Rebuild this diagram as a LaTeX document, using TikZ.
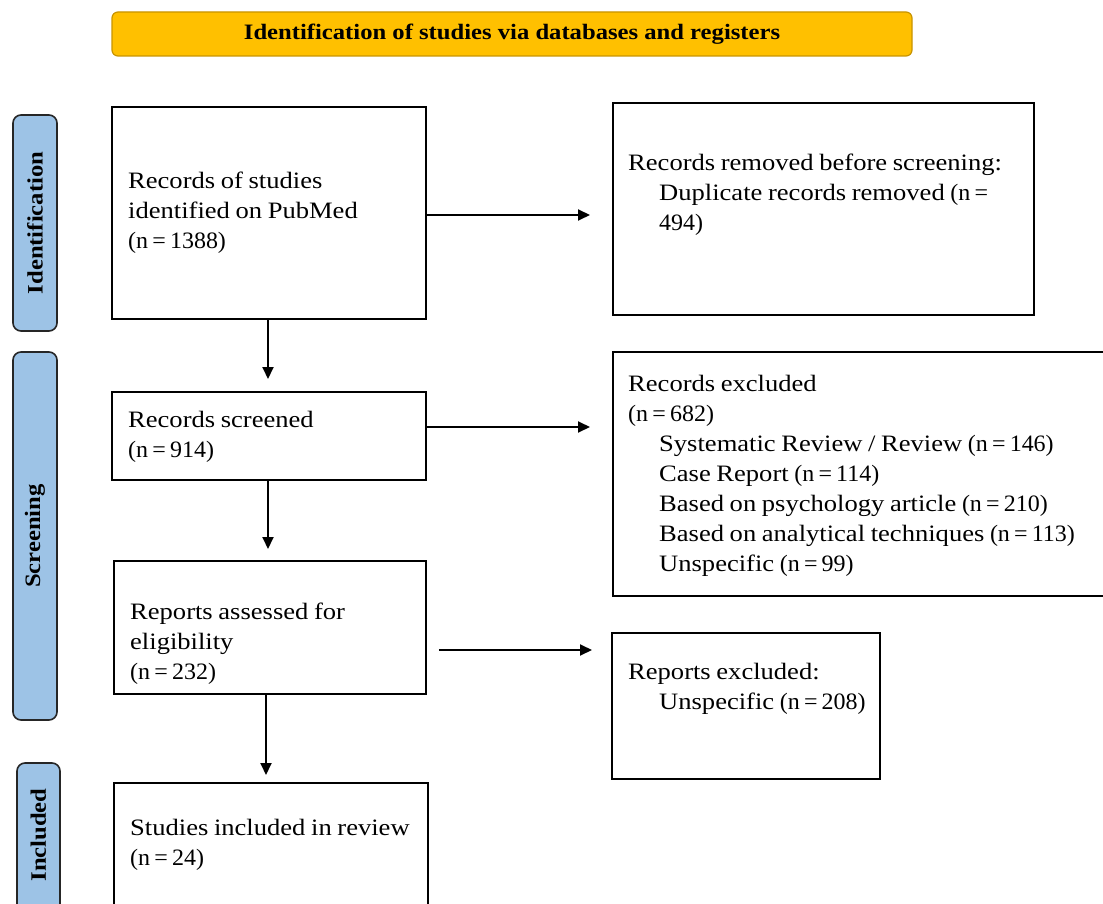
\documentclass[tikz,border=0pt]{standalone}
\usepackage{fontspec}
\setmainfont{Liberation Serif}[FakeStretch=1.13, WordSpace=0.85]
\newfontfamily\bannerfont{Liberation Serif}[FakeStretch=1.12]
\newfontfamily\numfont{Liberation Serif}[FakeStretch=1.02, WordSpace=0.7]
\usetikzlibrary{arrows.meta}
\definecolor{bannerorange}{HTML}{FFC000}
\definecolor{bannerborder}{HTML}{C89400}
\definecolor{sideblue}{HTML}{9DC3E6}
\tikzset{
  flowbox/.style={draw=black, line width=1.9pt, rectangle, inner sep=0pt, minimum width=#1},
  sidebox/.style={draw=black!85, line width=1.6pt, fill=sideblue, rounded corners=8pt, inner sep=0pt},
  bodytext/.style={anchor=west, inner sep=0pt, align=left, font=\fontsize{23.5}{30}\selectfont},
  sidetext/.style={inner sep=0pt, rotate=90, font=\fontsize{22}{24}\selectfont\bannerfont\bfseries},
  arr/.style={line width=1.9pt, -{Triangle[length=12pt,width=11pt]}}
}
\newcommand{\ind}{\hspace*{31pt}}
\newcommand{\nn}[1]{{\numfont #1}}
\begin{document}
\begin{tikzpicture}[x=1pt,y=-1pt]
\useasboundingbox (0,0) rectangle (1103,904);
% banner
\node[draw=bannerborder, line width=1.2pt, fill=bannerorange, rounded corners=6pt,
      minimum width=800pt, minimum height=44pt, inner sep=0pt,
      font=\fontsize{22}{24}\selectfont\bannerfont\bfseries] (banner) at (512,34)
      {Identification of studies via databases and registers};
% side labels
\node[sidebox, minimum width=44pt, minimum height=216pt] (sideid) at (35,223) {};
\node[sidetext] (sideidt) at (sideid.center) {Identification};
\node[sidebox, minimum width=44pt, minimum height=368pt] (sidescr) at (35,536) {};
\node[sidetext] (sidescrt) at (sidescr.center) {Screening};
\node[sidebox, minimum width=43pt, minimum height=160pt] (sideinc) at (38.5,843) {};
\node[sidetext] (sideinct) at (38.5,835) {Included};
% left boxes
\node[flowbox=314pt, minimum height=212pt] (b1) at (269,213) {};
\node[flowbox=314pt, minimum height=88pt] (b2) at (269,436) {};
\node[flowbox=312pt, minimum height=133pt] (b3) at (270,627.5) {};
\node[flowbox=314pt, minimum height=140pt] (b4) at (271,853) {};
\node[bodytext] (t1) at (128,213) {Records of studies\\identified on PubMed\\\nn{(n = 1388)}};
\node[bodytext] (t2) at (128,437) {Records screened\\\nn{(n = 914)}};
\node[bodytext] (t3) at (130,643.5) {Reports assessed for\\eligibility\\\nn{(n = 232)}};
\node[bodytext] (t4) at (130,845) {Studies included in review\\\nn{(n = 24)}};
% right boxes
\node[flowbox=421pt, minimum height=212pt] (r1) at (823.5,209) {};
\node[flowbox=492pt, minimum height=244pt] (r2) at (859,474) {};
\node[flowbox=268pt, minimum height=146pt] (r3) at (746,706) {};
\node[bodytext] (rt1) at (628,195) {Records removed before screening:\\\ind Duplicate records removed \nn{(n =}\\\ind \nn{494)}};
\node[bodytext] (rt2) at (628,476) {Records excluded\\\nn{(n = 682)}\\\ind Systematic Review / Review \nn{(n = 146)}\\\ind Case Report \nn{(n = 114)}\\\ind Based on psychology article \nn{(n = 210)}\\\ind Based on analytical techniques \nn{(n = 113)}\\\ind Unspecific \nn{(n = 99)}};
\node[bodytext] (rt3) at (628,689) {Reports excluded:\\\ind Unspecific \nn{(n = 208)}};
% arrow end points
\coordinate (h1) at (590,215);
\coordinate (h2) at (590,427);
\coordinate (h3) at (592,650);
\coordinate (v1) at (268,379);
\coordinate (v2) at (268,549);
\coordinate (v3) at (266,775);
% connectors
\draw[arr] (b1.east |- h1) -- (h1);
\draw[arr] (b2.east |- h2) -- (h2);
\draw[arr] ([xshift=12pt]b3.east |- h3) -- (h3);
\draw[arr] (b1.south -| v1) -- (v1);
\draw[arr] (b2.south -| v2) -- (v2);
\draw[arr] (b3.south -| v3) -- (v3);
\end{tikzpicture}
\end{document}
